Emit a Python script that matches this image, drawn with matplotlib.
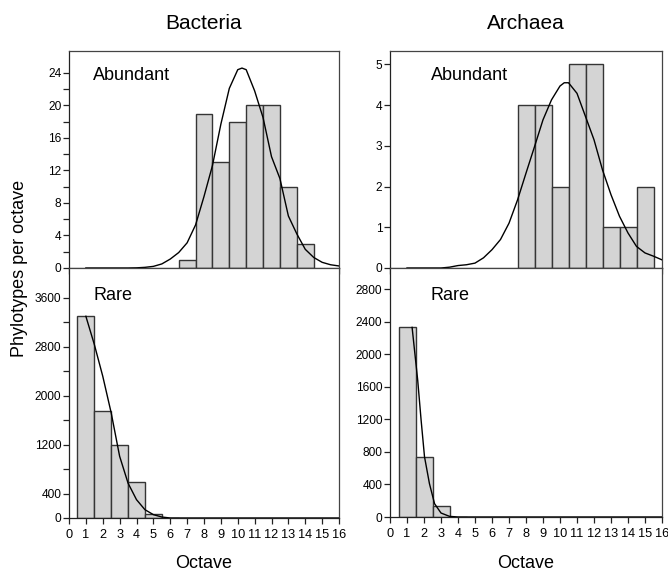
import matplotlib
matplotlib.use("Agg")
import matplotlib.pyplot as plt
import numpy as np

plt.rcParams['font.family'] = ['Liberation Sans', 'DejaVu Sans']

# ---- data ----
octaves = list(range(1, 17))
bac_abund = [0, 0, 0, 0, 0, 0, 1, 19, 13, 18, 20, 20, 10, 3, 0, 0]
arc_abund = [0, 0, 0, 0, 0, 0, 0, 4, 4, 2, 5, 5, 1, 1, 2, 0]
bac_rare = [3300, 1750, 1200, 590, 65, 5, 0, 0, 0, 0, 0, 0, 0, 0, 0, 0]
arc_rare = [2330, 740, 140, 5, 0, 0, 0, 0, 0, 0, 0, 0, 0, 0, 0, 0]

fit_x = [1, 1.5, 2, 2.5, 3, 3.5, 4, 4.5, 5, 5.5, 6, 6.5, 7, 7.5, 8, 8.5,
         9, 9.5, 10, 10.25, 10.5, 11, 11.5, 12, 12.5, 13, 13.5, 14, 14.5, 15, 15.5, 16]
bac_abund_fit = [0, 0, 0, 0, 0, 0, 0.02, 0.08, 0.2, 0.5, 1.1, 1.9, 3.1, 5.3, 8.8, 12.6,
                 17.7, 22.1, 24.4, 24.6, 24.4, 21.8, 18.5, 13.7, 11.0, 6.4, 4.2, 2.3, 1.3, 0.7, 0.4, 0.25]
arc_abund_fit = [0, 0, 0, 0, 0, 0.02, 0.06, 0.08, 0.12, 0.25, 0.45, 0.7, 1.1, 1.67, 2.33, 2.98,
                 3.64, 4.13, 4.47, 4.55, 4.55, 4.29, 3.72, 3.15, 2.41, 1.8, 1.27, 0.86, 0.53, 0.37, 0.29, 0.2]
bac_rare_fit = [3300, 2840, 2320, 1720, 1010, 570, 300, 136, 55, 16, 0, 0, 0, 0, 0, 0,
                0, 0, 0, 0, 0, 0, 0, 0, 0, 0, 0, 0, 0, 0, 0, 0]
arc_rare_fit_x = [1.3, 1.63, 1.83, 2.03, 2.32, 2.62, 3.0, 3.5, 4, 5, 6, 7, 8, 9, 10,
                  11, 12, 13, 14, 15, 16]
arc_rare_fit = [2330, 1680, 1190, 740, 410, 164, 49, 8, 0, 0, 0, 0, 0, 0, 0,
                0, 0, 0, 0, 0, 0]

x_ticks = list(range(0, 17))
bac_ab_yticks = list(range(0, 25, 2))
bac_ab_ylabels = ['0', '', '4', '', '8', '', '12', '', '16', '', '20', '', '24']
arc_ab_yticks = [0, 1, 2, 3, 4, 5]
bac_rare_yticks = list(range(0, 3601, 400))
bac_rare_ylabels = ['0', '400', '', '1200', '', '2000', '', '2800', '', '3600']
arc_rare_yticks = list(range(0, 2801, 400))

W, H = 668, 572
fig = plt.figure(figsize=(W / 100, H / 100), dpi=100)


def ax_px(x0, x1, y0, y1):
    return fig.add_axes([x0 / W, 1 - y1 / H, (x1 - x0) / W, (y1 - y0) / H])


BAR_FC = '#d4d4d4'
BAR_EC = '#353535'
SPINE = '#444444'


def style(ax, ylim, yticks, ylabels, show_xlabels):
    ax.set_xlim(0, 16)
    ax.set_ylim(*ylim)
    ax.set_xticks(x_ticks)
    ax.set_yticks(yticks)
    ax.set_yticklabels(ylabels)
    if not show_xlabels:
        ax.set_xticklabels([])
    else:
        ax.set_xticklabels([str(t) for t in x_ticks])
    ax.tick_params(direction='out', length=4, width=0.9, color='#222222',
                   labelsize=8.6, pad=1.5)
    ax.tick_params(axis='x', pad=4, labelsize=9.2)
    for s in ax.spines.values():
        s.set_color(SPINE)
        s.set_linewidth(0.9)
    ax.spines['left'].set_color('#222222')
    ax.spines['bottom'].set_color('#222222')


def draw(ax, vals, fx, fy):
    xs = [o for o, v in zip(octaves, vals) if v > 0]
    hs = [v for v in vals if v > 0]
    ax.bar(xs, hs, width=1.0, color=BAR_FC, edgecolor=BAR_EC, linewidth=1.0, zorder=2)
    ax.plot(fx, fy, color='black', linewidth=1.0, zorder=3, clip_on=True)


# Bacteria abundant
a1 = ax_px(69, 339, 51, 268)
draw(a1, bac_abund, fit_x, bac_abund_fit)
style(a1, (0, 26.7), bac_ab_yticks, bac_ab_ylabels, False)
a1.text(0.089, 0.885, 'Abundant', transform=a1.transAxes, fontsize=13, va='center')
a1.set_title('Bacteria', fontsize=15, pad=16)

# Bacteria rare
a2 = ax_px(69, 339, 268, 518)
draw(a2, bac_rare, fit_x, bac_rare_fit)
style(a2, (0, 4090), bac_rare_yticks, bac_rare_ylabels, True)
a2.text(0.089, 0.888, 'Rare', transform=a2.transAxes, fontsize=13, va='center')

# Archaea abundant
a3 = ax_px(390, 662, 51, 268)
draw(a3, arc_abund, fit_x, arc_abund_fit)
style(a3, (0, 5.33), arc_ab_yticks, [str(t) for t in arc_ab_yticks], False)
a3.text(0.15, 0.885, 'Abundant', transform=a3.transAxes, fontsize=13, va='center')
a3.set_title('Archaea', fontsize=15, pad=16)

# Archaea rare
a4 = ax_px(390, 662, 268, 517)
draw(a4, arc_rare, arc_rare_fit_x, arc_rare_fit)
style(a4, (0, 3060), arc_rare_yticks, [str(t) for t in arc_rare_yticks], True)
a4.text(0.15, 0.888, 'Rare', transform=a4.transAxes, fontsize=13, va='center')

fig.text(204 / W, 1 - 563 / H, 'Octave', fontsize=13, ha='center', va='center')
fig.text(526 / W, 1 - 563 / H, 'Octave', fontsize=13, ha='center', va='center')

fig.text(20 / W, 1 - 268 / H, 'Phylotypes per octave', rotation=90, fontsize=13,
         ha='center', va='center')

fig.savefig('out.png', dpi=100)
